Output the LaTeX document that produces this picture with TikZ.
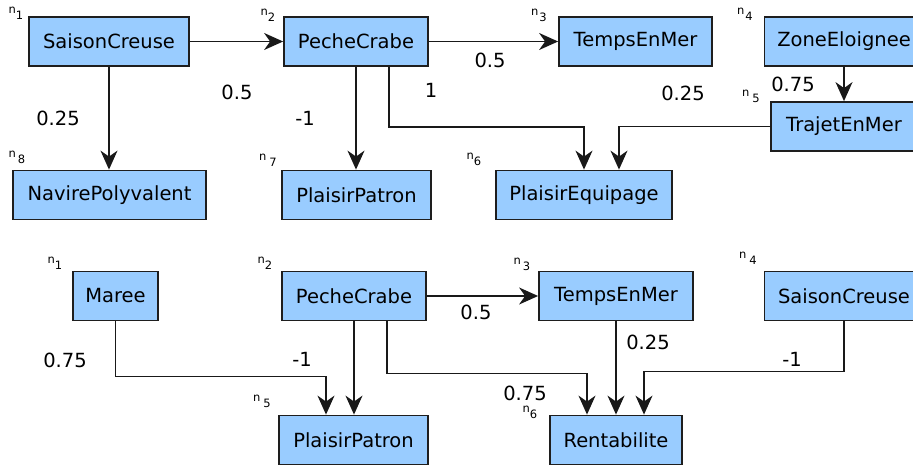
\documentclass[tikz,border=0pt]{standalone}
\usepackage{fontspec}
\setmainfont{DejaVu Sans}
\usetikzlibrary{arrows.meta}
\definecolor{boxfill}{HTML}{99CCFF}
\definecolor{boxline}{HTML}{1E1E1E}
\newcommand{\nlab}[2]{{\fontsize{11.5}{11.5}\selectfont n\hspace{#2}\raisebox{-6pt}{#1}}}
\begin{document}
\begin{tikzpicture}[x=1pt,y=-1pt,
  box/.style={draw=boxline,fill=boxfill,line width=1.8pt,inner sep=0pt,minimum height=49pt,
    font=\fontsize{19.5}{22}\selectfont},
  arr/.style={draw=black!90,line width=1.45pt,-{Stealth[length=19pt,width=17pt,inset=6pt]}},
  wlab/.style={font=\fontsize{19.5}{22}\selectfont,inner sep=0pt},
  nlabel/.style={inner sep=0pt}]
\useasboundingbox (0,0) rectangle (913,468);
\clip (0,0) rectangle (913,468);
\fill[white] (0,0) rectangle (913,468);
% ---------- top graph ----------
\node[box,minimum width=160pt] (a1) at (109,41.5) {SaisonCreuse};
\node[box,minimum width=144pt] (a2) at (356,41.5) {PecheCrabe};
\node[box,minimum width=153pt] (a3) at (635.5,41.5) {TempsEnMer};
\node[box,minimum width=159pt] (a4) at (844,41.5) {ZoneEloignee};
\node[box,minimum width=146pt] (a5) at (844,126.5) {TrajetEnMer};
\node[box,minimum width=176pt] (a6) at (584,195) {PlaisirEquipage};
\node[box,minimum width=149pt] (a7) at (356.5,195) {PlaisirPatron};
\node[box,minimum width=193pt] (a8) at (109.5,195) {NavirePolyvalent};
\node[nlabel] (na1) at (16,13) {\nlab{1}{0pt}};
\node[nlabel] (na2) at (268,15) {\nlab{2}{0pt}};
\node[nlabel] (na3) at (539,15) {\nlab{3}{1pt}};
\node[nlabel] (na4) at (745,14) {\nlab{4}{1pt}};
\node[nlabel] (na5) at (751,96) {\nlab{5}{3pt}};
\node[nlabel] (na6) at (474,159) {\nlab{6}{0pt}};
\node[nlabel] (na7) at (268,160) {\nlab{7}{3pt}};
\node[nlabel] (na8) at (17,157) {\nlab{8}{2pt}};
\draw[arr] (a1.east) -- (a2.west);
\draw[arr] (a1.south) -- (a1.south |- a8.north);
\draw[arr] (a2.east) -- (a3.west);
\draw[arr] (a2.south) -- (a2.south |- a7.north);
\draw[arr] ([xshift=33]a2.south) -- ++(0,60) -| (a6.north);
\draw[arr] (a5.west) -| ([xshift=35]a6.north);
\draw[arr] (a4.south) -- (a5.north);
\node[wlab] (w1) at (237,92) {0.5};
\node[wlab] (w2) at (58,118) {0.25};
\node[wlab] (w3) at (305,118) {-1};
\node[wlab] (w4) at (431,90) {1};
\node[wlab] (w5) at (490,60) {0.5};
\node[wlab] (w6) at (683,93) {0.25};
\node[wlab] (w7) at (793,84) {0.75};
% ---------- bottom graph ----------
\node[box,minimum width=85pt] (b1) at (115.5,296) {Maree};
\node[box,minimum width=144pt] (b2) at (354,296) {PecheCrabe};
\node[box,minimum width=154pt] (b3) at (616,296) {TempsEnMer};
\node[box,minimum width=159pt] (b4) at (844,296) {SaisonCreuse};
\node[box,minimum width=149pt] (b5) at (353.5,440) {PlaisirPatron};
\node[box,minimum width=132pt] (b6) at (616,440) {Rentabilite};
\node[nlabel] (nb1) at (55,263) {\nlab{1}{0pt}};
\node[nlabel] (nb2) at (265,263) {\nlab{2}{0pt}};
\node[nlabel] (nb3) at (522,264) {\nlab{3}{2pt}};
\node[nlabel] (nb4) at (748,258) {\nlab{4}{3pt}};
\node[nlabel] (nb5) at (262,401) {\nlab{5}{3pt}};
\node[nlabel] (nb6) at (530,412) {\nlab{6}{0pt}};
\draw[arr] (b1.south) -- ++(0,55) -| ([xshift=-27.5]b5.north);
\draw[arr] (b2.south) -- (b2.south |- b5.north);
\draw[arr] (b2.east) -- (b3.west);
\draw[arr] ([xshift=33]b2.south) -- ++(0,52) -| ([xshift=-29]b6.north);
\draw[arr] (b3.south) -- (b6.north);
\draw[arr] (b4.south) -- ++(0,50) -| ([xshift=28]b6.north);
\node[wlab] (v1) at (65,360) {0.75};
\node[wlab] (v2) at (302,359) {-1};
\node[wlab] (v3) at (476,312) {0.5};
\node[wlab] (v4) at (648,342) {0.25};
\node[wlab] (v5) at (792,359) {-1};
\node[wlab] (v6) at (525,393) {0.75};
\end{tikzpicture}
\end{document}
